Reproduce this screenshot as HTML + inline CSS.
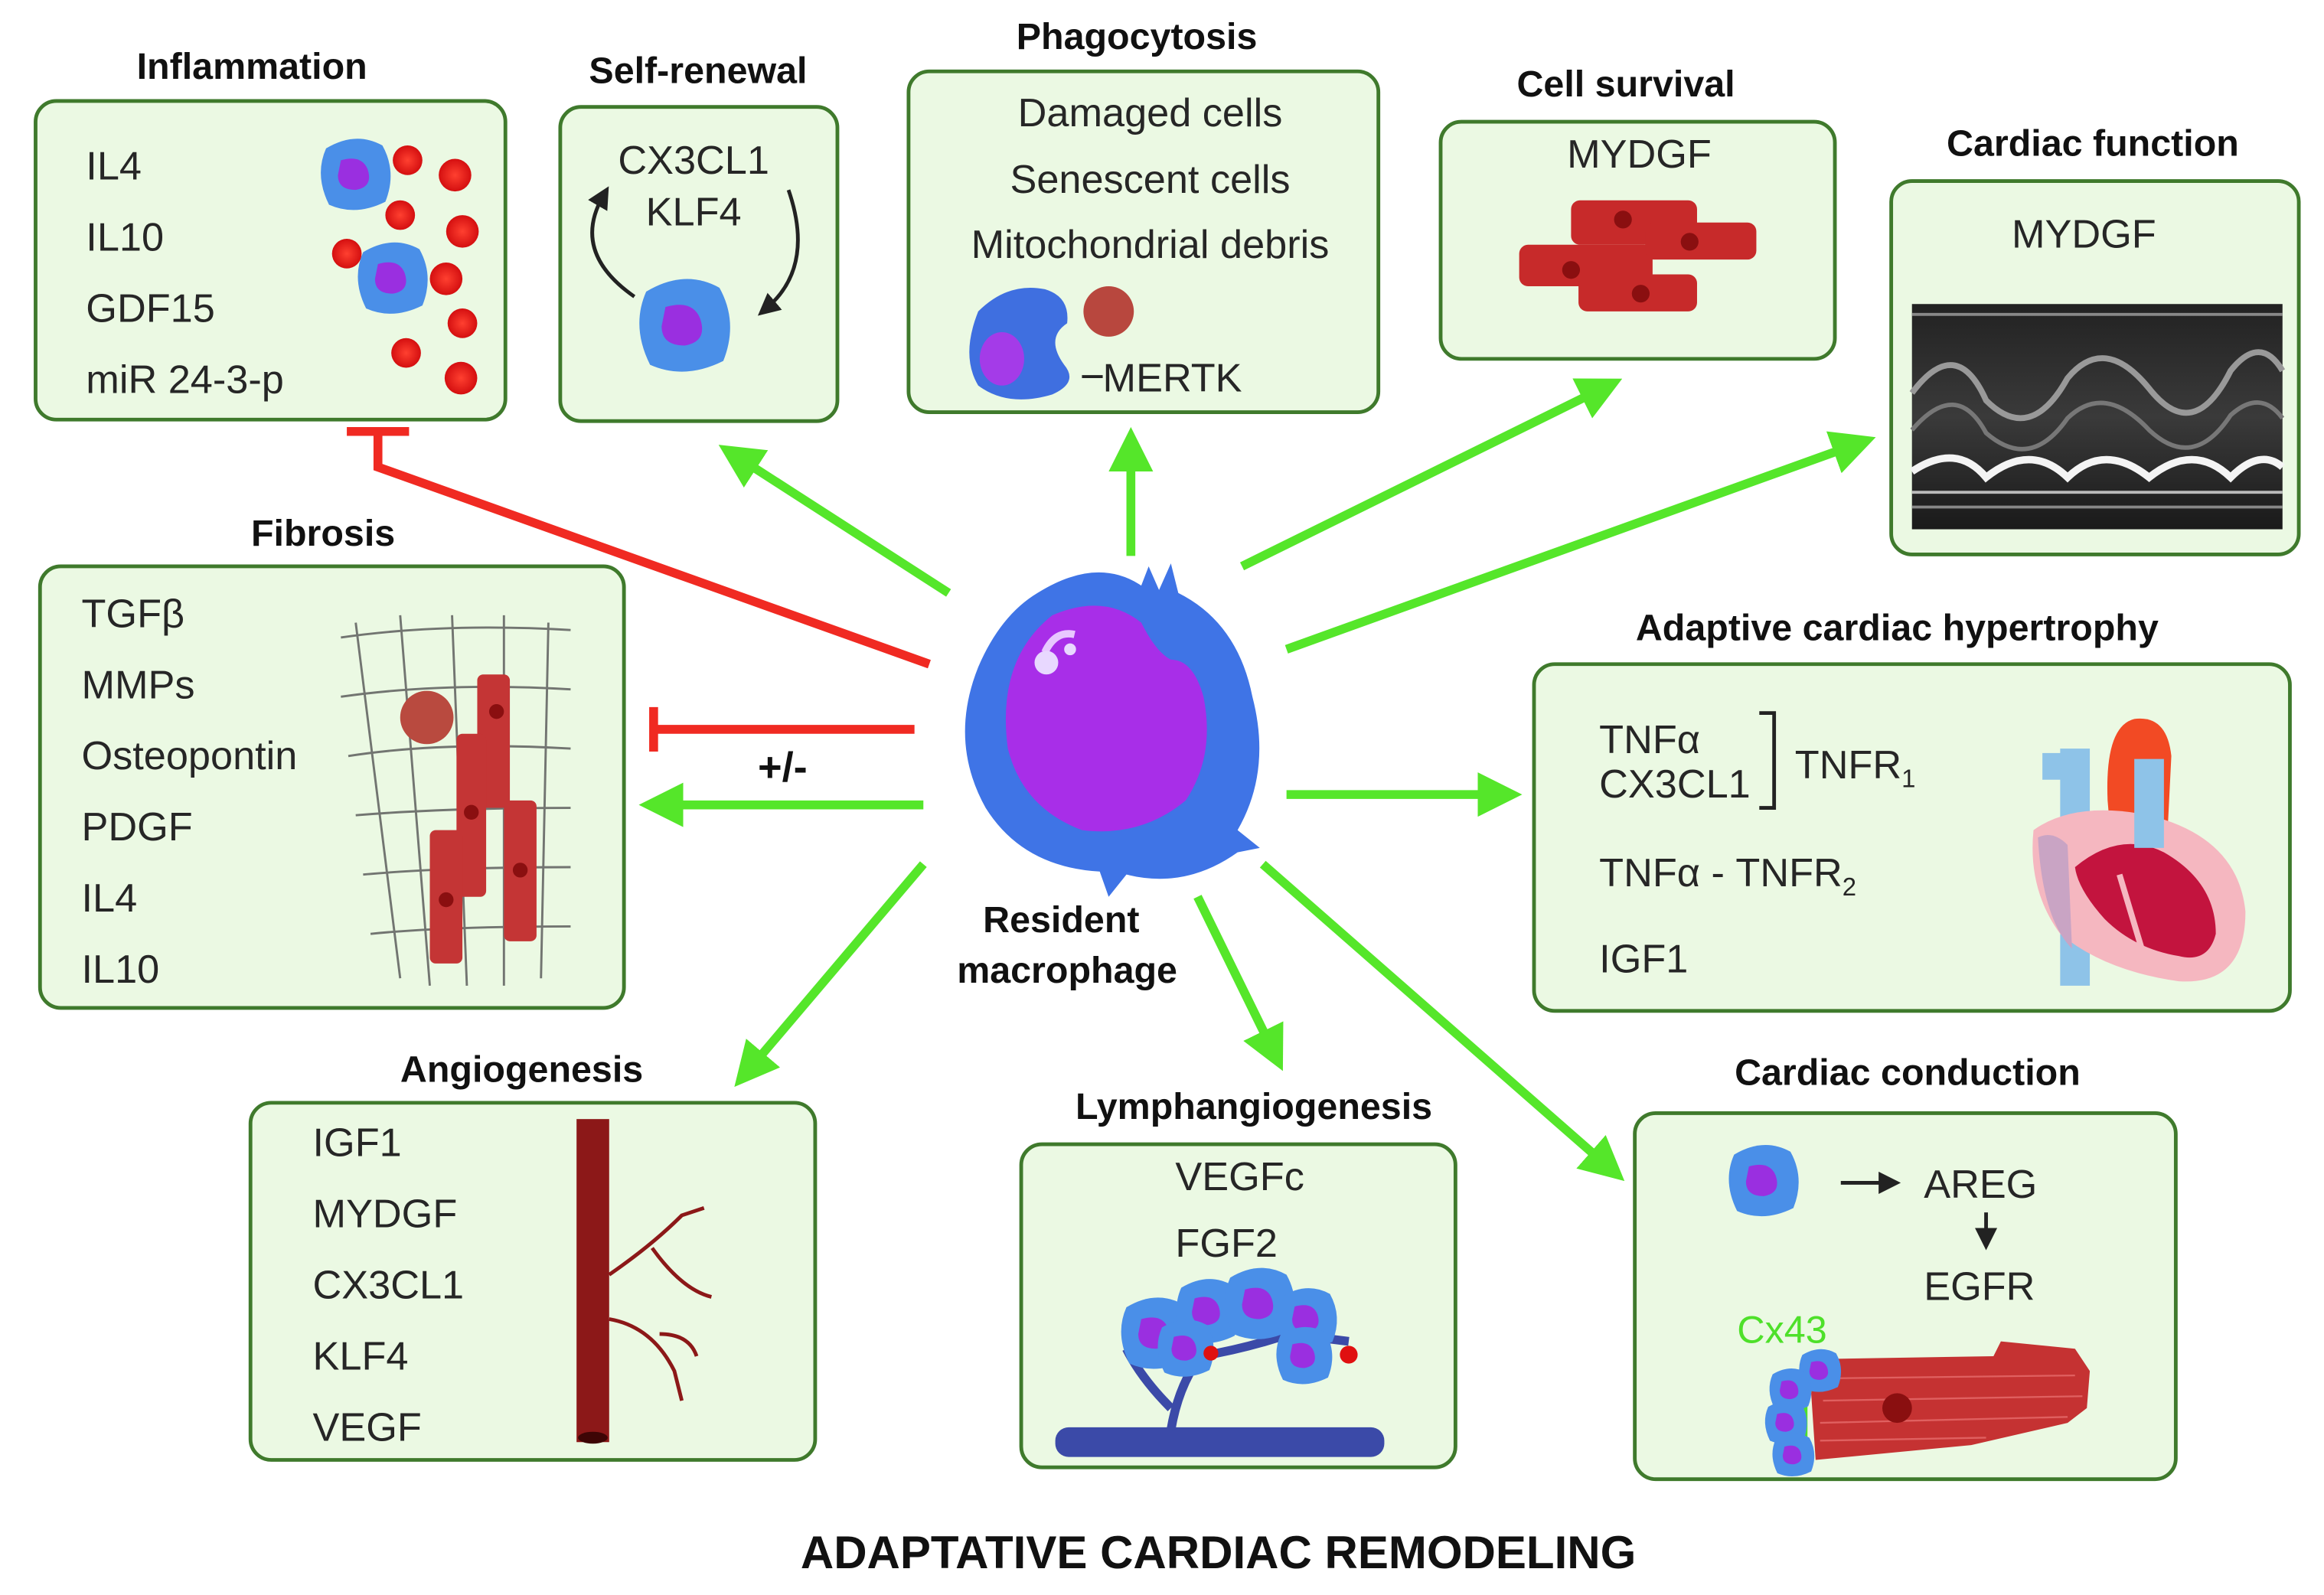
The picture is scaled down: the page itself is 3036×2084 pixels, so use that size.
<!DOCTYPE html>
<html><head><meta charset="utf-8"><style>
html,body{margin:0;padding:0;background:#fff;}
svg{display:block;}
text{font-family:"Liberation Sans",sans-serif;fill:#262626;}
.t{font-weight:bold;font-size:25px;text-anchor:middle;fill:#111;}
.b{font-size:27px;}
.box{fill:#ebf9e3;stroke:#3f7a2c;stroke-width:2.5;}
.g{stroke:#55e62a;stroke-width:6;fill:none;}
.r{stroke:#f02a22;stroke-width:6;fill:none;}
</style></head><body>
<svg width="3036" height="2084" viewBox="0 0 1568 1076" xmlns="http://www.w3.org/2000/svg">
<defs>
<marker id="ah" markerWidth="5" markerHeight="5" refX="1" refY="2.5" orient="auto" markerUnits="strokeWidth"><path d="M0,0 L5,2.5 L0,5 Z" fill="#55e62a"/></marker>
<marker id="ak" markerWidth="6" markerHeight="6" refX="3" refY="3" orient="auto" markerUnits="strokeWidth"><path d="M0,0 L6,3 L0,6 Z" fill="#222"/></marker>
<g id="cell"><path d="M-20,-18 Q0,-30 18,-20 Q28,-2 20,18 Q0,28 -18,20 Q-28,0 -20,-18Z" fill="#4a8fe8"/><path d="M-10,-10 Q4,-14 8,-4 Q12,8 0,10 Q-12,10 -12,0Z" fill="#9a2fe0"/></g>
<radialGradient id="rb"><stop offset="0" stop-color="#ff4030"/><stop offset="1" stop-color="#d40f10"/></radialGradient>
<linearGradient id="echo" x1="0" y1="0" x2="0" y2="1"><stop offset="0" stop-color="#222"/><stop offset="0.5" stop-color="#3a3a3a"/><stop offset="1" stop-color="#1a1a1a"/></linearGradient>
</defs>

<!-- Boxes -->
<rect class="box" x="24" y="68" width="317" height="215" rx="14"/>
<rect class="box" x="378" y="72" width="187" height="212" rx="14"/>
<rect class="box" x="613" y="48" width="317" height="230" rx="14"/>
<rect class="box" x="972" y="82" width="266" height="160" rx="14"/>
<rect class="box" x="1276" y="122" width="275" height="252" rx="14"/>
<rect class="box" x="27" y="382" width="394" height="298" rx="14"/>
<rect class="box" x="1035" y="448" width="510" height="234" rx="14"/>
<rect class="box" x="169" y="744" width="381" height="241" rx="14"/>
<rect class="box" x="689" y="772" width="293" height="218" rx="14"/>
<rect class="box" x="1103" y="751" width="365" height="247" rx="14"/>

<!-- Titles -->
<text class="t" x="170" y="53">Inflammation</text>
<text class="t" x="471" y="56">Self-renewal</text>
<text class="t" x="767" y="33">Phagocytosis</text>
<text class="t" x="1097" y="65">Cell survival</text>
<text class="t" x="1412" y="105">Cardiac function</text>
<text class="t" x="218" y="368">Fibrosis</text>
<text class="t" x="1280" y="432">Adaptive cardiac hypertrophy</text>
<text class="t" x="352" y="730">Angiogenesis</text>
<text class="t" x="846" y="755">Lymphangiogenesis</text>
<text class="t" x="1287" y="732">Cardiac conduction</text>
<text x="822" y="1058" style="font-weight:bold;font-size:31px;text-anchor:middle;fill:#111">ADAPTATIVE CARDIAC REMODELING</text>

<!-- Inflammation -->
<text class="b" x="58" y="121">IL4</text>
<text class="b" x="58" y="169">IL10</text>
<text class="b" x="58" y="217">GDF15</text>
<text class="b" x="58" y="265">miR 24-3-p</text>
<use href="#cell" x="240" y="118"/>
<use href="#cell" x="265" y="188"/>
<g fill="url(#rb)"><circle cx="275" cy="108" r="10"/><circle cx="307" cy="118" r="11"/><circle cx="270" cy="145" r="10"/><circle cx="312" cy="156" r="11"/><circle cx="234" cy="171" r="10"/><circle cx="301" cy="188" r="11"/><circle cx="312" cy="218" r="10"/><circle cx="274" cy="238" r="10"/><circle cx="311" cy="255" r="11"/></g>

<!-- Self-renewal -->
<text class="b" x="468" y="117" text-anchor="middle">CX3CL1</text>
<text class="b" x="468" y="152" text-anchor="middle">KLF4</text>
<path d="M428,200 Q385,170 407,132" stroke="#222" stroke-width="2.5" fill="none" marker-end="url(#ak)"/>
<path d="M532,128 Q550,180 517,208" stroke="#222" stroke-width="2.5" fill="none" marker-end="url(#ak)"/>
<g transform="translate(462,220) scale(1.3)"><use href="#cell"/></g>

<!-- Phagocytosis -->
<text class="b" x="776" y="85" text-anchor="middle">Damaged cells</text>
<text class="b" x="776" y="130" text-anchor="middle">Senescent cells</text>
<text class="b" x="776" y="174" text-anchor="middle">Mitochondrial debris</text>
<path d="M660,210 Q680,190 705,195 Q722,200 720,218 Q705,228 718,246 Q728,258 710,266 Q680,275 660,260 Q648,240 660,210Z" fill="#3f6fe0"/>
<ellipse cx="676" cy="242" rx="15" ry="18" fill="#a43be8"/>
<circle cx="748" cy="210" r="17" fill="#b8473e"/>
<line x1="730" y1="254" x2="744" y2="254" stroke="#222" stroke-width="2"/>
<text class="b" x="744" y="264">MERTK</text>

<!-- Cell survival -->
<text class="b" x="1106" y="113" text-anchor="middle">MYDGF</text>
<g fill="#c72a2a"><rect x="1025" y="165" width="90" height="28" rx="6"/><rect x="1060" y="135" width="85" height="30" rx="6"/><rect x="1110" y="150" width="75" height="25" rx="6"/><rect x="1065" y="185" width="80" height="25" rx="6"/></g>
<g fill="#8a0f10"><circle cx="1095" cy="148" r="6"/><circle cx="1060" cy="182" r="6"/><circle cx="1140" cy="163" r="6"/><circle cx="1107" cy="198" r="6"/></g>

<!-- Cardiac function -->
<text class="b" x="1406" y="167" text-anchor="middle">MYDGF</text>
<rect x="1290" y="205" width="250" height="152" fill="url(#echo)"/>
<path d="M1290,265 Q1320,225 1340,270 Q1370,300 1395,255 Q1420,225 1450,262 Q1480,300 1505,250 Q1525,225 1540,250" stroke="#999" stroke-width="4" fill="none"/>
<path d="M1290,290 Q1320,255 1340,292 Q1370,318 1395,282 Q1420,258 1450,290 Q1480,318 1505,280 Q1525,262 1540,282" stroke="#777" stroke-width="3" fill="none"/>
<path d="M1290,318 Q1320,298 1340,322 Q1370,298 1395,322 Q1420,298 1450,322 Q1480,298 1505,322 Q1525,302 1540,315" stroke="#f4f4f4" stroke-width="5" fill="none"/>
<path d="M1290,332 L1540,332" stroke="#bbb" stroke-width="2"/>
<path d="M1290,342 L1540,342" stroke="#888" stroke-width="2"/>
<path d="M1290,212 L1540,212" stroke="#888" stroke-width="2"/>

<!-- Fibrosis -->
<text class="b" x="55" y="423">TGFβ</text>
<text class="b" x="55" y="471">MMPs</text>
<text class="b" x="55" y="519">Osteopontin</text>
<text class="b" x="55" y="567">PDGF</text>
<text class="b" x="55" y="615">IL4</text>
<text class="b" x="55" y="663">IL10</text>
<g stroke="#555" stroke-width="1.5" fill="none" opacity="0.8">
<path d="M230,430 Q300,420 385,425"/><path d="M230,470 Q300,460 385,465"/><path d="M235,510 Q300,500 385,505"/><path d="M240,550 Q300,545 385,545"/><path d="M245,590 Q300,585 385,585"/><path d="M250,630 Q300,625 385,625"/>
<path d="M240,420 L270,660"/><path d="M270,415 L290,665"/><path d="M305,415 L315,665"/><path d="M340,415 L340,665"/><path d="M370,420 L365,660"/>
</g>
<g fill="#c43535"><rect x="322" y="455" width="22" height="90" rx="4"/><rect x="308" y="495" width="20" height="110" rx="4"/><rect x="290" y="560" width="22" height="90" rx="4"/><rect x="340" y="540" width="22" height="95" rx="4"/></g>
<circle cx="288" cy="484" r="18" fill="#b94a3f"/>
<g fill="#8a0f10"><circle cx="335" cy="480" r="5"/><circle cx="318" cy="548" r="5"/><circle cx="301" cy="607" r="5"/><circle cx="351" cy="587" r="5"/></g>

<!-- Hypertrophy -->
<text class="b" x="1079" y="508">TNFα</text>
<text class="b" x="1079" y="538">CX3CL1</text>
<path d="M1187,481 L1197,481 L1197,545 L1187,545" stroke="#222" stroke-width="2.5" fill="none"/>
<text class="b" x="1211" y="525">TNFR<tspan font-size="17" dy="6">1</tspan></text>
<text class="b" x="1079" y="598">TNFα - TNFR<tspan font-size="17" dy="6">2</tspan></text>
<text class="b" x="1079" y="656">IGF1</text>
<rect x="1390" y="505" width="20" height="160" fill="#8ec3e8"/>
<path d="M1422,540 Q1420,490 1440,485 Q1462,482 1465,510 L1462,570 L1425,575Z" fill="#f24a24"/>
<path d="M1372,560 Q1400,540 1450,550 Q1510,565 1515,615 Q1515,665 1470,662 Q1420,655 1390,630 Q1368,600 1372,560Z" fill="#f5b7c0"/>
<path d="M1375,565 Q1385,560 1395,570 L1398,640 Q1378,620 1375,565Z" fill="#c9a4c4"/>
<path d="M1400,585 Q1430,560 1460,575 Q1495,595 1495,630 Q1490,650 1470,645 Q1440,640 1420,620 Q1402,600 1400,585Z" fill="#c3143e"/>
<path d="M1430,590 L1445,640" stroke="#f5b7c0" stroke-width="4"/>
<rect x="1440" y="512" width="20" height="60" fill="#8ec3e8"/>
<rect x="1378" y="508" width="14" height="18" fill="#8ec3e8"/>

<!-- Angiogenesis -->
<text class="b" x="211" y="780">IGF1</text>
<text class="b" x="211" y="828">MYDGF</text>
<text class="b" x="211" y="876">CX3CL1</text>
<text class="b" x="211" y="924">KLF4</text>
<text class="b" x="211" y="972">VEGF</text>
<rect x="389" y="755" width="22" height="218" fill="#8c1818"/>
<ellipse cx="400" cy="970" rx="10" ry="4" fill="#3d0505"/>
<g stroke="#8c1818" stroke-width="2.5" fill="none"><path d="M411,860 Q440,840 460,820 L475,815"/><path d="M440,842 Q460,870 480,875"/><path d="M411,890 Q440,895 455,925 L460,945"/><path d="M445,900 Q465,900 470,915"/></g>

<!-- Lymphangiogenesis -->
<text class="b" x="793" y="803">VEGFc</text>
<text class="b" x="793" y="848">FGF2</text>
<rect x="712" y="963" width="222" height="20" rx="9" fill="#3b4aa8"/>
<g stroke="#3b4aa8" stroke-width="6" fill="none"><path d="M790,965 Q795,935 810,915 Q840,910 870,900 L910,905"/><path d="M790,950 Q770,930 760,910"/><path d="M810,915 Q820,895 830,885"/></g>
<g transform="translate(780,900)"><use href="#cell"/></g>
<g transform="translate(815,885) scale(0.9)"><use href="#cell"/></g>
<g transform="translate(850,880)"><use href="#cell"/></g>
<g transform="translate(882,890) scale(0.85)"><use href="#cell"/></g>
<g transform="translate(800,910) scale(0.8)"><use href="#cell"/></g>
<g transform="translate(880,915) scale(0.8)"><use href="#cell"/></g>
<circle cx="817" cy="913" r="5" fill="#e01010"/><circle cx="910" cy="914" r="6" fill="#e01010"/>

<!-- Cardiac conduction -->
<g transform="translate(1190,797)"><use href="#cell"/></g>
<line x1="1242" y1="798" x2="1275" y2="798" stroke="#222" stroke-width="2.5" marker-end="url(#ak)"/>
<text class="b" x="1298" y="808">AREG</text>
<line x1="1340" y1="818" x2="1340" y2="836" stroke="#222" stroke-width="2.5" marker-end="url(#ak)"/>
<text class="b" x="1298" y="877">EGFR</text>
<text x="1172" y="906" style="font-size:26px;fill:#4ee02a">Cx43</text>
<path d="M1225,917 L1345,915 L1350,905 L1400,910 L1410,925 L1408,950 L1395,960 L1330,975 L1225,985 L1222,940Z" fill="#c53232"/>
<g stroke="#e06060" stroke-width="1.2"><line x1="1230" y1="930" x2="1400" y2="928"/><line x1="1230" y1="945" x2="1405" y2="942"/><line x1="1228" y1="960" x2="1395" y2="956"/><line x1="1228" y1="972" x2="1340" y2="970"/></g>
<circle cx="1280" cy="950" r="10" fill="#8a0f10"/>
<path d="M1225,917 L1225,935 L1218,940 L1218,985" stroke="#4ee02a" stroke-width="3" fill="none"/>
<g transform="translate(1228,925) scale(0.6)"><use href="#cell"/></g>
<g transform="translate(1208,938) scale(0.6)"><use href="#cell"/></g>
<g transform="translate(1205,960) scale(0.6)"><use href="#cell"/></g>
<g transform="translate(1210,982) scale(0.6)"><use href="#cell"/></g>

<!-- Connectors -->
<path class="r" d="M627,448 L255,315 L255,293"/>
<line x1="234" y1="291" x2="276" y2="291" stroke="#f02a22" stroke-width="6"/>
<line class="r" x1="617" y1="492" x2="442" y2="492"/>
<line x1="441" y1="477" x2="441" y2="507" stroke="#f02a22" stroke-width="6"/>
<text x="528" y="527" style="font-weight:bold;font-size:28px;text-anchor:middle;fill:#111">+/-</text>
<line class="g" x1="640" y1="400" x2="505" y2="313" marker-end="url(#ah)"/>
<line class="g" x1="763" y1="375" x2="763" y2="312" marker-end="url(#ah)"/>
<line class="g" x1="838" y1="382" x2="1073" y2="266" marker-end="url(#ah)"/>
<line class="g" x1="868" y1="438" x2="1243" y2="303" marker-end="url(#ah)"/>
<line class="g" x1="868" y1="536" x2="1003" y2="536" marker-end="url(#ah)"/>
<line class="g" x1="623" y1="543" x2="455" y2="543" marker-end="url(#ah)"/>
<line class="g" x1="623" y1="583" x2="511" y2="715" marker-end="url(#ah)"/>
<line class="g" x1="808" y1="605" x2="855" y2="701" marker-end="url(#ah)"/>
<line class="g" x1="852" y1="583" x2="1078" y2="781" marker-end="url(#ah)"/>

<!-- Macrophage -->
<path d="M700,400 Q740,375 770,395 L775,382 L782,398 L790,380 L795,400 Q835,420 845,470 Q858,520 835,560 L850,572 L835,575 Q800,600 760,590 L748,605 L742,588 Q690,585 665,545 Q640,500 660,450 Q675,415 700,400Z" fill="#3f74e6"/>
<path d="M710,415 Q745,400 770,420 Q780,440 790,445 Q805,445 812,470 Q820,510 800,540 Q770,565 730,560 Q690,545 680,505 Q672,445 710,415Z" fill="#a82ee8"/>
<path d="M705,440 Q712,425 725,428" stroke="#e8c8ff" stroke-width="5" fill="none"/>
<circle cx="706" cy="447" r="8" fill="#e8d8ff"/><circle cx="722" cy="438" r="4" fill="#e8d8ff"/>
<text x="716" y="629" style="font-weight:bold;font-size:25px;text-anchor:middle;fill:#111">Resident</text>
<text x="720" y="663" style="font-weight:bold;font-size:25px;text-anchor:middle;fill:#111">macrophage</text>
</svg>
</body></html>
